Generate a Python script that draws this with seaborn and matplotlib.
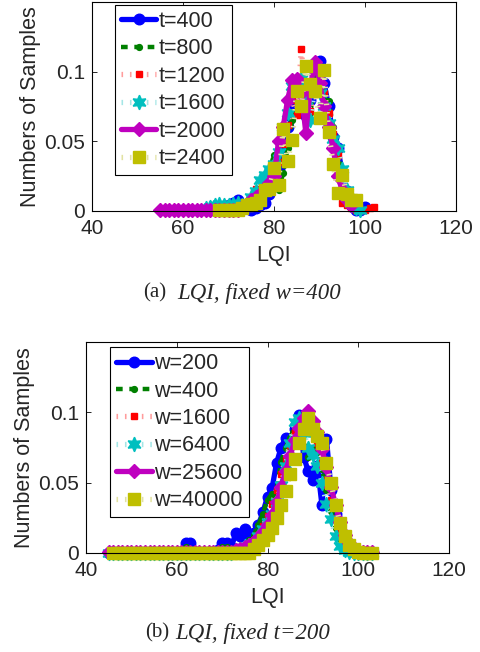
import numpy as np
import matplotlib
matplotlib.use("Agg")
import matplotlib.pyplot as plt
import seaborn as sns

sns.set_style("ticks")
plt.rcParams["font.family"] = ["Liberation Sans", "DejaVu Sans"]
plt.rcParams["font.size"] = 15
plt.rcParams["xtick.direction"] = "in"
plt.rcParams["ytick.direction"] = "in"
plt.rcParams["xtick.top"] = True
plt.rcParams["ytick.right"] = True

nan = np.nan

# ---- panel (a): LQI, fixed w=400 ----
lqi_top = [55, 56, 57, 58, 59, 60, 61, 62, 63, 64, 65, 66, 67, 68, 69, 70,
           71, 72, 73, 74, 75, 76, 77, 78, 79, 80, 81, 82, 83, 84, 85, 86,
           87, 88, 89, 90, 91, 92, 93, 94, 95, 96, 97, 98, 99, 100, 101, 102]
t_labels = ["t=400", "t=800", "t=1200", "t=1600", "t=2000", "t=2400"]
t400 = [nan, nan, nan, nan, nan, nan, nan, nan, nan, nan, nan,
        0.001, 0.002, 0.002, 0.003, 0.004, 0.006, 0.008, 0.004, 0.002, 0.001,
        0.002, 0.004, 0.006, 0.012, 0.020, 0.030, 0.045, 0.060, 0.075, 0.087,
        0.080, 0.068, 0.080, 0.098, 0.108, 0.092, 0.075, 0.053, 0.045, 0.028,
        0.014, 0.004, 0.001, 0.001, 0.003, nan, nan]
t800 = [nan, nan, nan, nan, nan, nan, nan, nan, nan, nan, nan, nan, nan,
        0.001, 0.002, 0.002, 0.003, 0.004, 0.004, 0.005, 0.006, 0.007, 0.010,
        0.012, 0.030, 0.040, 0.015, 0.027, 0.045, 0.065, 0.085, 0.090, 0.075,
        0.070, 0.095, 0.100, 0.080, 0.079, 0.060, 0.045, 0.025, 0.012, 0.004,
        0.001, nan, nan, nan, nan]
t1200 = [nan, nan, nan, nan, nan, nan, nan, nan, nan, nan, nan,
         0.001, 0.002, 0.002, 0.003, 0.003, 0.003, 0.004, 0.005, 0.006, 0.010,
         0.016, 0.012, 0.015, 0.022, 0.032, 0.035, 0.048, 0.062, 0.080, 0.069,
         0.116, 0.080, 0.072, 0.090, 0.098, 0.085, 0.070, 0.055, 0.040, 0.006,
         0.004, 0.002, 0.001, 0.001, 0.001, 0.002, 0.003]
t1600 = [nan, nan, nan, nan, nan, nan, nan, nan, nan, nan,
         0.002, 0.003, 0.004, 0.005, 0.004, 0.004, 0.005, 0.006, 0.004, 0.006,
         0.010, 0.014, 0.022, 0.026, 0.030, 0.034, 0.042, 0.060, 0.070, 0.090,
         0.093, 0.095, 0.080, 0.065, 0.090, 0.085, 0.075, 0.063, 0.052, 0.045,
         0.030, 0.015, 0.006, 0.002, 0.001, nan, nan, nan]
t2000 = [0.001, 0.001, 0.001, 0.001, 0.001, 0.001, 0.001, 0.001, 0.001, 0.001,
         0.001, 0.001, 0.001, 0.001, 0.001, 0.001, 0.001, 0.001, 0.003, 0.005,
         0.008, 0.010, 0.012, 0.015, 0.020, 0.025, 0.050, 0.060, 0.080, 0.094,
         0.095, 0.085, 0.056, 0.090, 0.107, 0.092, 0.075, 0.060, 0.045, 0.025,
         0.015, 0.008, 0.004, nan, nan, nan, nan, nan]
t2400 = [nan, nan, nan, nan, nan, nan, nan, nan, nan, nan, nan, nan, nan,
         0.001, 0.001, 0.001, 0.001, 0.001, 0.002, 0.004, 0.005, 0.006, 0.008,
         0.015, 0.016, 0.031, 0.019, 0.059, 0.036, 0.051, 0.086, 0.075, 0.104,
         0.091, 0.086, 0.067, 0.101, 0.057, 0.034, 0.013, 0.026, 0.012, 0.008,
         0.008, nan, nan, nan, nan]

# ---- panel (b): LQI, fixed t=200 ----
lqi_bottom = [45, 46, 47, 48, 49, 50, 51, 52, 53, 54, 55, 56, 57, 58, 59, 60,
              61, 62, 63, 64, 65, 66, 67, 68, 69, 70, 71, 72, 73, 74, 75, 76,
              77, 78, 79, 80, 81, 82, 83, 84, 85, 86, 87, 88, 89, 90, 91, 92,
              93, 94, 95, 96, 97, 98, 99, 100, 101, 102, 103]
w_labels = ["w=200", "w=400", "w=1600", "w=6400", "w=25600", "w=40000"]
w200 = [0, 0, 0, 0, 0, 0, 0, 0, 0, 0, 0, 0, 0, 0, 0, 0,
        0.001, 0.007, 0.007, 0.001, 0, 0, 0, 0.001, 0.002, 0.007, 0.007, 0.004,
        0.014, 0.012, 0.017, 0.011, 0.014, 0.020, 0.029, 0.040, 0.046, 0.064,
        0.075, 0.082, 0.080, 0.088, 0.098, 0.068, 0.058, 0.052, 0.062, 0.034,
        0.081, 0.045, 0.028, 0.013, 0.006, 0.003, 0.001, 0, 0, 0, 0]
w400 = [0, 0, 0, 0, 0, 0, 0, 0, 0, 0, 0, 0, 0, 0, 0, 0,
        0, 0.004, 0.003, 0, 0, 0, 0, 0, 0, 0.004, 0.004, 0.001,
        0.002, 0.004, 0.006, 0.009, 0.013, 0.020, 0.028, 0.038, 0.042, 0.045,
        0.065, 0.075, 0.082, 0.090, 0.093, 0.085, 0.068, 0.075, 0.072, 0.060,
        0.045, 0.030, 0.018, 0.010, 0.005, 0.002, 0.001, 0, 0, 0, 0]
w1600 = [0, 0, 0, 0, 0, 0, 0, 0, 0, 0, 0, 0, 0, 0, 0, 0,
         0, 0, 0, 0, 0, 0, 0, 0, 0, 0, 0, 0,
         0.001, 0.002, 0.004, 0.006, 0.009, 0.013, 0.019, 0.026, 0.035, 0.045,
         0.056, 0.067, 0.077, 0.086, 0.093, 0.096, 0.094, 0.088, 0.078, 0.066,
         0.052, 0.038, 0.025, 0.014, 0.007, 0.003, 0.001, 0, 0, 0, 0]
w6400 = [0, 0, 0, 0, 0, 0, 0, 0, 0, 0, 0, 0, 0, 0, 0, 0,
         0, 0, 0, 0, 0, 0, 0, 0, 0, 0, 0, 0,
         0.002, 0.003, 0.005, 0.006, 0.008, 0.012, 0.017, 0.022, 0.028, 0.036,
         0.048, 0.062, 0.078, 0.093, 0.096, 0.085, 0.075, 0.070, 0.062, 0.050,
         0.035, 0.024, 0.012, 0.005, 0.002, 0.001, 0, 0, 0, 0, 0]
w25600 = [0.001, 0.001, 0.001, 0.001, 0.001, 0.001, 0.001, 0.001, 0.001, 0.001,
          0.001, 0.001, 0.001, 0.001, 0.001, 0.001, 0.001, 0.001, 0.001, 0.001,
          0.001, 0.001, 0.001, 0.001, 0.001, 0.001, 0.001, 0.001,
          0.002, 0.003, 0.004, 0.006, 0.008, 0.011, 0.015, 0.020, 0.027, 0.036,
          0.047, 0.058, 0.069, 0.080, 0.089, 0.096, 0.101, 0.094, 0.086, 0.074,
          0.061, 0.047, 0.034, 0.022, 0.013, 0.007, 0.003, 0.001, 0.001, 0.001,
          0.001]
w40000 = [nan, 0, 0, 0, 0, 0, 0, 0, 0, 0, 0, 0, 0, 0, 0, 0,
          0, 0, 0, 0, 0, 0, 0, 0, 0, 0, 0, 0,
          0, 0, 0, 0, 0.003, 0.006, 0.009, 0.013, 0.018, 0.025, 0.034, 0.044,
          0.056, 0.067, 0.078, 0.088, 0.096, 0.088, 0.083, 0.078, 0.064, 0.050,
          0.034, 0.021, 0.012, 0.006, 0.003, 0.001, 0, 0, 0]

series_styles = [
    dict(color="#0000ff", linestyle="-", linewidth=3.8, marker="o", markersize=7.6,
         markerfacecolor="#0000ff", markeredgecolor="#0000ff"),
    dict(color="#008000", linestyle=(0, (1.5, 1.5)), linewidth=3.2, marker="o", markersize=4.2,
         markerfacecolor="#008000", markeredgecolor="#008000"),
    dict(color="#ff9c9c", linestyle=(0, (0.3, 1.3)), linewidth=3.8, marker="s", markersize=4,
         markerfacecolor="#ff0000", markeredgecolor="#ff0000"),
    dict(color="#a4e6e6", linestyle=(0, (0.3, 1.3)), linewidth=3.8, marker=(6, 1, 0),
         markersize=10.5, markerfacecolor="#00bfbf", markeredgecolor="#00bfbf"),
    dict(color="#bf00bf", linestyle="-", linewidth=3.8, marker="D", markersize=6.8,
         markerfacecolor="#bf00bf", markeredgecolor="#bf00bf"),
    dict(color="#e2e2a2", linestyle=(0, (0.3, 1.3)), linewidth=3.8, marker="s", markersize=8,
         markerfacecolor="#bfbf00", markeredgecolor="#bfbf00"),
]


def draw_panel(ax, x, series, labels, anchor):
    for vals, lab, st in zip(series, labels, series_styles):
        sns.lineplot(x=x, y=vals, ax=ax, label=lab, errorbar=None,
                     markeredgewidth=1, clip_on=False, **st)
    ax.set_xlim(40, 120)
    ax.set_ylim(0, 0.15)
    ax.set_xticks([40, 60, 80, 100, 120])
    ax.set_yticks([0, 0.05, 0.1])
    ax.set_yticklabels(["0", "0.05", "0.1"])
    ax.tick_params(length=3.5, width=0.7, labelsize=15)
    ax.tick_params(axis="x", pad=6)
    ax.tick_params(axis="y", pad=5)
    for s in ax.spines.values():
        s.set_linewidth(0.8)
        s.set_color("black")
    ax.set_xlabel("LQI", fontsize=15.5)
    ax.set_ylabel("Numbers of Samples", fontsize=15.5)
    h, l = ax.get_legend_handles_labels()
    leg = ax.legend(h, l, loc="upper left", bbox_to_anchor=anchor, borderaxespad=0,
                    numpoints=1, handlelength=1.65, handletextpad=0.12,
                    labelspacing=0.3, borderpad=0.28, fancybox=False,
                    edgecolor="black", framealpha=1, fontsize=15.5)
    leg.get_frame().set_linewidth(0.8)


fig = plt.figure(figsize=(4.81, 6.52), dpi=100)
ax1 = fig.add_axes([92 / 481, 1 - 211 / 652, 364 / 481, 209 / 652])
ax2 = fig.add_axes([86 / 481, 1 - 553 / 652, 363 / 481, 211 / 652])

draw_panel(ax1, lqi_top, [t400, t800, t1200, t1600, t2000, t2400], t_labels, (0.063, 0.986))
draw_panel(ax2, lqi_bottom, [w200, w400, w1600, w6400, w25600, w40000], w_labels, (0.066, 0.976))

ax1.xaxis.set_label_coords(0.5, -0.162)
ax1.yaxis.set_label_coords(-0.14, 0.5)
ax2.xaxis.set_label_coords(0.5, -0.16)
ax2.yaxis.set_label_coords(-0.14, 0.5)

serif = ["Liberation Serif", "DejaVu Serif"]
fig.text(143 / 481, 1 - 293 / 652, "(a)", family=serif, fontsize=15, va="center")
fig.text(177 / 481, 1 - 293 / 652, "LQI, fixed w=400", family=serif, style="italic",
         fontsize=16.5, va="center")
fig.text(145 / 481, 1 - 633 / 652, "(b)", family=serif, fontsize=15, va="center")
fig.text(175 / 481, 1 - 633 / 652, "LQI, fixed t=200", family=serif, style="italic",
         fontsize=16.5, va="center")

fig.savefig("out.png", dpi=100)
